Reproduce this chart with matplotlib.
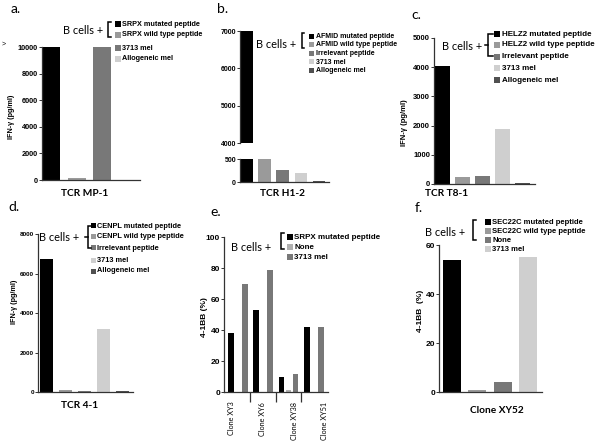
import numpy as np
import matplotlib
matplotlib.use("Agg")
import matplotlib.pyplot as plt
from matplotlib.patches import Rectangle
from matplotlib.lines import Line2D

# ---------------- data ----------------
a_labels = ["SRPX mutated peptide", "SRPX wild type peptide", "3713 mel", "Allogeneic mel"]
a_values = [10000, 120, 10000, 30]
a_yticks = [0, 2000, 4000, 6000, 8000, 10000]

b_labels = ["AFMID mutated peptide", "AFMID wild type peptide", "Irrelevant peptide",
            "3713 mel", "Allogeneic mel"]
b_values = [7000, 500, 250, 205, 30]
b_yticks_top = [4000, 5000, 6000, 7000]
b_yticks_bottom = [0, 500]

c_labels = ["HELZ2 mutated peptide", "HELZ2 wild type peptide", "Irrelevant peptide",
            "3713 mel", "Allogeneic mel"]
c_values = [4050, 230, 270, 1900, 45]
c_yticks = [0, 1000, 2000, 3000, 4000, 5000]

d_labels = ["CENPL mutated peptide", "CENPL wild type peptide", "Irrelevant peptide",
            "3713 mel", "Allogeneic mel"]
d_values = [6750, 100, 40, 3200, 30]
d_yticks = [0, 2000, 4000, 6000, 8000]

e_clones = ["Clone XY3", "Clone XY6", "Clone XY38", "Clone XY51"]
e_labels = ["SRPX mutated peptide", "None", "3713 mel"]
e_mutated = [38, 53, 9.4, 42]
e_none = [0, 0, 1, 0]
e_mel = [70, 79, 11.5, 42]
e_yticks = [0, 20, 40, 60, 80, 100]

f_labels = ["SEC22C mutated peptide", "SEC22C wild type peptide", "None", "3713 mel"]
f_values = [54, 1, 4, 55]
f_yticks = [0, 20, 40, 60]

# ---------------- style ----------------
BLACK = "#000000"
GRAY1 = "#9a9a9a"
GRAY2 = "#787878"
LIGHT = "#cfcfcf"
DARK = "#505050"
a_colors = [BLACK, GRAY1, GRAY2, LIGHT]
b_colors = [BLACK, GRAY1, GRAY2, LIGHT, DARK]
c_colors = [BLACK, GRAY1, GRAY2, LIGHT, DARK]
d_colors = [BLACK, GRAY1, GRAY2, LIGHT, DARK]
e_colors = [BLACK, "#b0b0b0", GRAY2]
f_colors = [BLACK, GRAY1, GRAY2, LIGHT]

ARIAL = ["Liberation Sans", "DejaVu Sans"]
CAL = ["Lato", "DejaVu Sans"]
SPINE = "#333333"

W, H = 600, 444
fig = plt.figure(figsize=(6, 4.44), dpi=100)
fig.patch.set_facecolor("white")


def add_ax(l, r, t, b):
    return fig.add_axes([l / W, 1 - b / H, (r - l) / W, (b - t) / H])


def ftext(x, y, s, **kw):
    fig.text(x / W, 1 - y / H, s, **kw)


def fline(xs, ys, **kw):
    fig.add_artist(Line2D([x / W for x in xs], [1 - y / H for y in ys],
                          transform=fig.transFigure, **kw))


def frect(x, y, w, h, color):
    fig.add_artist(Rectangle((x / W, 1 - (y + h) / H), w / W, h / H,
                             transform=fig.transFigure, color=color, lw=0))


def legend(xm, ys, labels, colors, msize, fs):
    for y, lab, c in zip(ys, labels, colors):
        frect(xm, y - msize / 2, msize, msize, c)
        ftext(xm + msize + 1.5, y, lab, fontsize=fs, fontweight="bold",
              va="center", ha="left", family=ARIAL)


def bracket(x, y0, y1, arm=2.5, mid=None):
    fline([x + arm, x, x, x + arm], [y0, y0, y1, y1], color="black", lw=1.1,
          solid_joinstyle="miter")
    if mid is not None:
        ym = (y0 + y1) / 2
        fline([x - mid, x], [ym, ym], color="black", lw=1.1)


def style(ax, yticks, fs, bottom=True):
    for s in ["top", "right"]:
        ax.spines[s].set_visible(False)
    ax.spines["left"].set_color(SPINE)
    ax.spines["left"].set_linewidth(0.9)
    if bottom:
        ax.spines["bottom"].set_color(SPINE)
        ax.spines["bottom"].set_linewidth(0.9)
    else:
        ax.spines["bottom"].set_visible(False)
    ax.set_yticks(yticks)
    ax.set_yticklabels([str(v) for v in yticks])
    ax.tick_params(axis="y", length=2, width=0.7, color=SPINE, labelsize=fs, pad=0.8)
    for lab in ax.get_yticklabels():
        lab.set_fontweight("bold")
        lab.set_family(ARIAL)
    ax.set_xticks([])
    ax.patch.set_alpha(0)


def ylabel(x, y, s, fs):
    ftext(x, y, s, rotation=90, fontsize=fs, fontweight="bold", family=ARIAL,
          ha="center", va="center")


def panel_letter(x, y, s):
    ftext(x, y, s, fontsize=10, family=CAL, ha="left", va="center")


def bcells(x, y):
    ftext(x, y, "B cells +", fontsize=7.9, family=CAL, ha="left", va="center")


def xtitle(x, y, s):
    ftext(x, y, s, fontsize=7.3, fontweight="bold", family=CAL, ha="center", va="center")


# ---------------- panel a ----------------
ax = add_ax(42, 140, 47, 180)
pos = np.arange(len(a_values))
ax.bar(pos, a_values, width=0.706, color=a_colors)
ax.set_xlim(-0.353, 3.49)
ax.set_ylim(0, 10000)
style(ax, a_yticks, 5.3)
panel_letter(11, 9, "a.")
ylabel(12, 117, "IFN-γ (pg/ml)", 5.2)
ftext(4, 44, ">", fontsize=5, family=ARIAL, ha="center", va="center")
xtitle(85, 193, "TCR MP-1")
bcells(63, 31)
bracket(108, 22, 37)
legend(115, [24, 35, 48, 59], a_labels, a_colors, 6, 5.2)

# ---------------- panel b (broken axis) ----------------
pos = np.arange(len(b_values))
axt = add_ax(240, 329, 31, 143)
axt.bar(pos, b_values, width=0.69, color=b_colors)
axt.set_xlim(-0.36, 4.56)
axt.set_ylim(4000, 7000)
style(axt, b_yticks_top, 5, bottom=False)
axb = add_ax(240, 329, 159, 182)
axb.bar(pos, b_values, width=0.69, color=b_colors)
axb.set_xlim(-0.36, 4.56)
axb.set_ylim(0, 500)
style(axb, b_yticks_bottom, 5)
panel_letter(217, 9, "b.")
xtitle(282, 193, "TCR H1-2")
bcells(256, 45)
bracket(302, 33, 48)
legend(309, [36, 44.5, 53.5, 62, 71], b_labels, b_colors, 5, 5)

# ---------------- panel c ----------------
ax = add_ax(434, 535, 38, 184)
pos = np.arange(len(c_values))
ax.bar(pos, c_values, width=0.75, color=c_colors)
ax.set_xlim(-0.425, 4.625)
ax.set_ylim(0, 5000)
style(ax, c_yticks, 5.5)
panel_letter(411, 15, "c.")
ylabel(405, 123, "IFN-γ (pg/ml)", 5.5)
ftext(425, 193, "TCR T8-1", fontsize=7.3, fontweight="bold", family=CAL,
      ha="left", va="center")
bcells(442, 47)
bracket(488, 34, 56, arm=5, mid=3.5)
legend(494, [34, 45, 57, 68.5, 80], c_labels, c_colors, 6, 5.8)

# ---------------- panel d ----------------
ax = add_ax(38, 133, 234, 392)
pos = np.arange(len(d_values))
ax.bar(pos, d_values, width=0.68, color=d_colors)
ax.set_xlim(-0.445, 4.53)
ax.set_ylim(0, 8000)
style(ax, d_yticks, 4.6)
panel_letter(8, 207, "d.")
ylabel(14, 302, "IFN-γ (pg/ml)", 5.2)
xtitle(80, 405, "TCR 4-1")
bcells(39, 237)
bracket(87.5, 226, 248, arm=3, mid=3)
legend(90.5, [226, 236.5, 248, 260.5, 271], d_labels, d_colors, 5, 5.3)

# ---------------- panel e ----------------
ax = add_ax(224, 328, 237, 392)
g = np.arange(len(e_clones))
off = 0.28
wid = 0.22
ax.bar(g - off, e_mutated, width=wid, color=e_colors[0])
ax.bar(g, e_none, width=wid, color=e_colors[1])
ax.bar(g + off, e_mel, width=wid, color=e_colors[2])
ax.set_xlim(-0.545, 3.56)
ax.set_ylim(0, 100)
style(ax, e_yticks, 6)
ax.set_xticks(g[:-1] + 0.5, minor=True)
ax.tick_params(axis="x", which="minor", length=7, width=0.9, color=SPINE, direction="out")
label_pos = [-0.25, 0.98, 2.22, 3.41]
ax.set_xticks(label_pos)
ax.set_xticklabels(e_clones, rotation=90, fontsize=5.2, family=CAL, va="top", ha="center")
ax.tick_params(axis="x", which="major", length=0, pad=7)
panel_letter(210, 212, "e.")
ylabel(205, 317, "4-1BB (%)", 6)
bcells(231, 247)
bracket(281, 233, 249)
legend(287, [237, 247, 257.5], e_labels, e_colors, 6, 5.8)

# ---------------- panel f ----------------
ax = add_ax(439, 542, 245, 392)
pos = np.arange(len(f_values))
ax.bar(pos, f_values, width=0.706, color=f_colors)
ax.set_xlim(-0.51, 3.53)
ax.set_ylim(0, 60)
style(ax, f_yticks, 6)
panel_letter(415, 208, "f.")
ylabel(421, 311, "4-1BB  (%)", 6)
xtitle(497, 410, "Clone XY52")
bcells(425, 232)
bracket(473, 220, 240)
legend(485, [222, 231, 240, 249.5], f_labels, f_colors, 6, 5.5)

fig.savefig("out.png", dpi=100, facecolor="white")
